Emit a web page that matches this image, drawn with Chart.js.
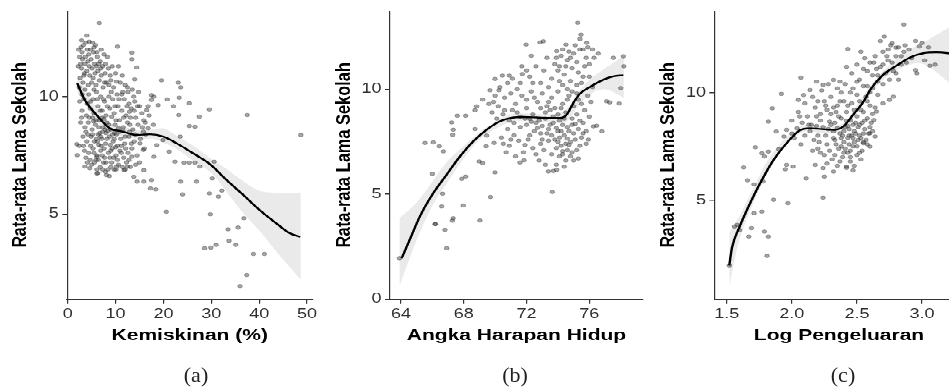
<!DOCTYPE html>
<html>
<head>
<meta charset="utf-8">
<script src="https://cdn.jsdelivr.net/npm/chart.js@4/dist/chart.umd.min.js"></script>
<style>
  html, body { margin: 0; padding: 0; background: #fff; overflow: hidden; }
  body { width: 949px; height: 391px; position: relative; }
  /* the source figure is squeezed vertically, so the plots are drawn tall and scaled down */
  #plots { position: absolute; left: 0; top: 0; width: 980px; height: 501px; transform: scaleY(0.78); transform-origin: 0 0; }
  #plots canvas { position: absolute; top: 0; }
  .cap { position: absolute; top: 362px; font-family: 'Liberation Serif', 'DejaVu Serif', serif; font-size: 22px; line-height: 26px; color: #222; transform: translateX(-50%); }
</style>
</head>
<body>
<div id="plots">
  <canvas id="chart-a" width="330" height="450" style="left:0px"></canvas>
  <canvas id="chart-b" width="340" height="450" style="left:320px"></canvas>
  <canvas id="chart-c" width="340" height="450" style="left:640px"></canvas>
</div>
<div class="cap" style="left:196px">(a)</div>
<div class="cap" style="left:515px">(b)</div>
<div class="cap" style="left:843px">(c)</div>
<script>
// ---- (a) Kemiskinan vs Rata-rata Lama Sekolah ----
const povertyTicksX = [0, 10, 20, 30, 40, 50];
const povertyTicksY = [5, 10];
const povertyPoints = [
  [6.6,13.14],[4.0,12.6],[10.4,12.13],[13.4,11.88],[13.4,11.6],[14.4,11.25],[19.6,10.7],[23.1,10.6],[23.6,10.4],
  [20.8,9.89],[23.3,9.96],[25.4,9.72],[22.1,9.6],[29.6,9.46],[27.5,9.15],[37.5,9.22],[23.2,9.22],[48.7,8.37],
  [25.4,8.75],[26.6,8.72],[23.5,8.3],[21.2,7.66],[22.4,7.23],[24.3,7.19],[25.4,7.19],[26.6,7.19],[27.6,7.02],
  [30.6,7.23],[30.2,6.52],[23.6,6.38],[26.9,6.38],[32.2,6.0],[29.6,5.88],[24.0,5.84],[31.5,5.74],[20.6,5.1],
  [29.8,4.99],[36.8,4.82],[33.5,4.35],[35.6,4.42],[33.7,3.86],[35.1,3.68],[28.6,3.54],[29.9,3.57],[31.0,3.68],
  [38.8,3.3],[41.1,3.3],[37.4,2.4],[36.0,1.93],[18.6,7.94],[19.9,8.15],[18.0,7.44],[17.5,6.45],[18.4,6.05],
  [17.3,6.09],[15.9,6.87],[14.5,6.38],[15.9,6.38],[13.8,6.59],[17.5,10.07],[17.5,9.86],[18.0,10.0],[18.9,9.64],
  [16.5,9.43],[15.0,9.6],[13.8,10.0],[12.5,10.4],[11.3,10.1],[14.0,10.74],[10.2,10.64],[12.9,9.36],[15.9,9.0],
  [17.9,8.8],[16.8,8.65],[15.8,8.51],[15.1,8.01],[15.8,7.73],[13.4,7.44],[12.5,7.02],[11.8,6.87],[10.2,7.02],
  [8.7,6.62],[8.1,6.66],[6.1,6.73],[3.6,7.02],[2.0,7.51],[1.9,7.98],[6.1,7.44],
  [2.3,12.0],[2.8,12.1],[3.3,12.2],[3.8,12.3],[4.5,12.35],[5.2,12.3],[5.8,12.2],[2.5,11.7],[3.1,11.6],[3.7,11.7],
  [4.2,11.5],[4.9,11.6],[5.6,11.4],[6.2,11.7],[6.8,11.5],[7.3,11.3],[2.2,11.3],[2.9,11.2],[3.5,11.0],[4.0,11.1],
  [4.6,10.9],[5.1,11.2],[5.7,11.0],[6.3,11.1],[7.0,10.9],[7.8,11.0],[8.5,11.2],[9.3,11.3],[10.6,11.3],[2.6,10.8],
  [3.2,10.6],[4.3,10.5],[5.0,10.6],[5.9,10.5],[6.6,10.7],[7.4,10.4],[8.1,10.6],[8.9,10.9],[9.6,10.4],[11.0,10.6],
  [12.0,10.5],[6.1,11.9],[7.6,11.8],[8.3,11.7],[4.8,12.0],[7.0,12.0],
  [2.5,9.8],[3.4,9.9],[4.4,10.1],[5.3,9.9],[6.0,10.2],[6.9,10.0],[7.7,9.8],[8.6,10.0],[9.4,9.9],[10.3,10.1],
  [11.8,9.9],[12.8,9.7],[3.0,9.4],[3.9,9.2],[4.7,9.5],[5.5,9.3],[6.3,9.6],[7.2,9.4],[8.0,9.2],[8.8,9.5],
  [9.7,9.3],[10.5,9.6],[11.3,9.4],[12.2,9.2],[13.3,9.5],[14.2,9.1],[2.7,8.9],[3.6,8.7],[4.3,8.9],[5.1,8.6],
  [5.8,8.8],[6.6,9.0],[7.4,8.7],[8.2,8.9],[9.0,8.6],[9.9,8.8],[10.8,9.0],[11.6,8.7],[12.5,8.9],[13.6,8.6],
  [14.7,8.8],[3.2,8.3],[4.0,8.1],[4.9,8.3],[5.6,8.1],[6.4,8.4],[7.1,8.2],[7.9,8.0],[8.7,8.3],[9.5,8.1],
  [10.2,8.4],[11.1,8.2],[11.9,8.0],[12.8,8.3],[13.9,8.1],[15.2,8.2],[2.4,7.9],[3.5,7.7],[4.4,7.6],[5.3,7.8],
  [6.1,7.5],[6.9,7.7],[7.7,7.4],[8.5,7.6],[9.3,7.8],[10.1,7.5],[10.9,7.7],[11.7,7.4],[12.6,7.6],[13.4,7.8],
  [14.5,7.5],[4.1,7.2],[5.0,7.1],[5.9,7.3],[6.8,7.0],[7.5,7.2],[8.4,6.9],[9.2,7.2],[10.6,7.1],[11.4,7.0],
  [12.3,7.2],[13.1,7.0],[4.6,6.95],[6.3,6.75],[7.9,6.8],[9.7,6.9],
  [5.4,8.95],[6.7,8.45],[7.6,9.05],[8.4,8.55],[9.2,9.15],[6.0,8.2],[7.0,7.9],[8.9,7.95],[9.8,8.45],[10.6,8.65],
  [5.2,9.1],[6.5,7.95],[7.3,8.5],[8.0,8.45],[10.0,7.85],[11.5,8.55],[12.1,7.8],[13.0,8.8],[14.0,9.8],[15.5,9.3],
  [16.2,8.9],[16.8,9.6],[14.8,10.2],[13.5,10.3],
  [2.4,10.4],[3.0,10.1],[3.6,10.3],[4.1,9.7],[4.8,9.8],[5.5,10.3],[6.2,9.9],[6.8,9.4],[7.5,9.9],[8.3,9.6],
  [9.1,10.2],[9.9,9.6],[10.7,9.9],[11.5,10.2],[12.4,9.6],[13.1,9.1],[2.9,9.1],[3.8,8.5],[4.5,9.1],[5.2,8.4],
  [5.9,9.0],[6.5,8.7],[7.2,9.1],[7.8,8.6],[8.6,8.8],[9.4,8.4],[10.1,9.0],[10.9,8.5],[11.7,9.1],[12.9,8.5],
  [3.3,7.9],[4.2,8.4],[4.8,7.9],[5.5,7.6],[6.2,8.1],[6.9,8.3],[7.6,7.8],[8.2,8.2],[9.0,7.7],[9.7,8.2],
  [10.4,7.9],[11.2,7.9],[12.0,8.3],[13.3,8.0],[14.1,8.4],[3.8,7.4],[4.7,7.3],[5.6,7.2],[6.4,7.3],[7.2,7.5],
  [8.0,7.2],[8.8,7.4],[9.6,7.4],[10.4,7.3],[11.2,7.6],[12.8,7.3],[6.1,6.9],[7.3,6.9],[9.0,7.0],[10.1,6.9],
  [3.0,11.9],[3.6,11.4],[4.4,11.8],[5.4,11.9],[6.5,11.4],[2.7,11.4],[3.4,10.9],[4.5,11.3],[5.3,10.8],[6.0,11.3],
  [6.9,11.2],[7.7,10.6],[8.6,10.5],[2.9,12.4],[4.1,12.0],[5.5,12.1],[7.9,11.4],[9.0,10.7],[10.0,11.0],[11.4,10.9],
  [12.6,10.2],[13.9,9.4],[14.6,9.6],[15.6,8.7],[16.3,8.4],[17.0,9.2],[15.0,7.2],[14.2,7.1],[16.0,7.8],[12.0,6.9]
];
const povertyFitX = [2.0, 3.6, 6.05, 8.8, 11.6, 14.4, 17.2, 20.0, 22.8, 26.2, 29.7, 33.2, 36.7, 40.1, 43.6, 46.4, 48.6];
const povertyFitY = [10.57, 9.86, 9.22, 8.65, 8.51, 8.37, 8.4, 8.3, 8.01, 7.59, 7.13, 6.45, 5.81, 5.17, 4.6, 4.18, 4.03];
const povertyBandX = [2, 4, 6, 9, 12, 15, 18, 20, 23, 26, 30, 33, 36, 40, 44, 48.7];
const povertyBandHi = [10.95, 10.2, 9.5, 8.85, 8.7, 8.55, 8.6, 8.65, 8.3, 7.95, 7.35, 6.95, 6.5, 6.0, 5.9, 5.9];
const povertyBandLo = [10.2, 9.55, 8.95, 8.45, 8.3, 8.2, 8.2, 8.05, 7.75, 7.3, 6.75, 6.0, 5.2, 4.3, 3.3, 2.2];

// ---- (b) Angka Harapan Hidup ----
const lifeTicksX = [64, 68, 72, 76];
const lifeTicksY = [0, 5, 10];
const lifePoints = [
  [75.26,13.17],[75.47,12.61],[71.97,12.13],[72.86,12.24],[73.07,12.29],[73.92,11.82],[74.51,12.13],[75.83,12.21],
  [76.57,11.7],[77.53,11.5],[78.17,11.58],[78.2,11.1],[78.0,10.06],[77.9,9.32],[77.1,9.43],[77.3,9.38],[76.26,8.23],
  [76.8,7.99],[75.94,7.6],[76.47,8.26],[69.99,10.49],[70.46,10.65],[70.9,10.65],[71.73,10.73],[69.67,9.95],
  [70.24,9.95],[69.2,9.51],[68.82,9.19],[68.72,9.0],[67.23,8.42],[67.59,8.74],[68.12,8.74],[67.33,8.07],[67.29,7.83],
  [68.72,8.1],[65.53,7.44],[66.06,7.47],[66.44,7.28],[66.7,7.04],[66.0,5.97],[67.87,5.73],[68.12,5.84],[67.97,4.46],
  [66.65,5.02],[66.59,4.41],[67.33,3.85],[67.27,3.73],[66.17,3.57],[66.2,3.57],[66.8,3.3],[66.91,2.42],[69.03,3.74],
  [69.7,4.86],[69.2,6.48],[68.98,6.56],[69.99,6.04],[73.64,5.1],[73.39,6.08],[73.92,6.16],[71.58,6.51],[71.84,6.61],
  [69.42,7.28],[69.93,7.44],[70.52,7.4],[69.46,7.79],[63.9,1.95],
  [73.3,11.5],[73.8,11.2],[74.2,11.6],[74.6,11.4],[75.0,11.7],[75.4,11.9],[75.8,11.5],[76.2,11.9],[74.0,10.9],
  [74.4,10.7],[74.9,11.0],[75.3,10.8],[75.7,11.1],[76.0,10.6],[73.6,10.5],[74.8,10.4],[75.5,10.3],[73.1,10.9],
  [72.6,11.1],[72.2,10.6],[71.6,10.3],[72.9,10.3],[74.3,10.2],[75.9,12.0],[75.1,12.1],[74.7,11.8],
  [70.2,9.2],[70.6,9.6],[71.0,9.8],[71.3,9.3],[71.7,9.7],[72.0,9.1],[72.3,9.9],[72.7,9.4],[73.0,9.8],[73.3,9.2],
  [73.6,9.6],[74.0,9.9],[74.3,9.3],[74.7,9.7],[75.0,9.2],[75.3,9.5],[75.7,9.0],[76.1,9.4],[70.5,8.8],[70.9,8.5],
  [71.4,8.9],[71.9,8.6],[72.4,8.8],[72.8,8.5],[73.2,8.9],[73.7,8.7],[74.1,8.5],[74.5,8.9],[74.9,8.6],[75.2,8.8],
  [75.6,8.4],[76.0,8.7],
  [70.8,8.1],[71.2,7.8],[71.6,8.2],[72.1,7.6],[72.5,8.0],[72.9,7.4],[73.3,7.9],[73.5,8.3],[73.8,7.6],[74.0,8.0],
  [74.2,7.3],[74.4,7.8],[74.6,8.2],[74.8,7.5],[75.0,7.9],[75.2,7.1],[75.5,7.7],[75.8,8.0],[73.1,7.1],[73.6,6.9],
  [74.1,6.8],[74.5,6.6],[74.9,7.0],[75.3,6.7],[72.4,7.2],[71.8,7.0],[71.3,6.8],[72.8,6.6],[73.9,6.4],[74.3,7.05],
  [74.7,7.35],[73.4,7.55],[74.0,7.5],[74.3,8.3],[73.9,8.15],[74.6,7.65],[75.1,8.35],[72.7,8.15],[73.0,8.25],
  [71.9,7.35],[70.4,7.7],[70.9,7.3],[71.5,7.55],[72.3,8.45],[75.4,8.5],[73.5,9.0],[74.2,9.1],[72.0,8.3],[71.1,9.0],
  [70.1,8.6],[69.8,8.9],[69.6,9.3],[70.0,9.7],
  [73.4,8.1],[73.7,8.4],[74.0,8.8],[74.2,8.0],[74.4,8.6],[74.5,7.4],[74.7,8.0],[74.9,8.3],[75.1,7.6],[75.3,8.1],
  [73.6,7.8],[73.9,7.2],[74.1,7.7],[74.3,6.9],[74.6,7.1],[74.8,6.8],[75.0,6.6],[75.4,7.3],[75.6,7.9],[75.8,7.4],
  [73.2,8.6],[72.9,7.9],[72.6,8.4],[72.2,7.8],[72.0,9.5],[72.5,9.6],[72.9,9.1],[73.4,9.4],[73.8,9.1],[74.6,9.5],
  [74.9,9.9],[75.2,9.8],[75.5,9.3],[75.9,9.7],[76.2,10.1],[75.6,10.6],[75.2,10.2],[74.6,10.0],[74.1,10.4],[73.4,10.1],
  [73.9,11.5],[74.3,11.9],[74.8,11.5],[75.2,11.3],[75.6,11.9],[76.0,11.2],[76.3,11.5],[75.4,12.4],[74.1,11.1],[74.5,11.1],
  [71.2,8.4],[71.6,8.7],[72.2,8.6],[71.0,7.6],[70.7,7.0],[72.6,6.9],[73.2,6.4],[73.7,6.1],[74.4,6.3],[73.0,7.6],
  [70.3,10.1],[70.8,10.3],[71.4,10.0],[71.1,10.5],[72.4,10.3],[72.0,10.9],[72.3,11.6],[71.7,11.1],[70.6,9.0],[69.9,9.4]
];
const lifeFitX = [64.04, 64.6, 65.2, 66.06, 66.9, 67.76, 68.6, 69.46, 70.3, 70.95, 71.8, 72.64, 73.5, 74.13, 74.56, 74.98, 75.4, 76.04, 76.9, 77.53, 78.17];
const lifeFitY = [1.94, 2.9, 3.93, 5.05, 5.92, 6.8, 7.52, 8.07, 8.47, 8.63, 8.68, 8.66, 8.63, 8.63, 8.79, 9.35, 9.79, 10.11, 10.46, 10.62, 10.67];
const lifeBandX = [63.9, 65, 66, 67, 68, 69, 70, 71, 72, 73, 74, 74.6, 75.2, 76, 77, 78.2];
const lifeBandHi = [3.85, 4.6, 5.6, 6.6, 7.3, 7.95, 8.45, 8.8, 8.85, 8.82, 8.85, 9.1, 9.75, 10.45, 11.0, 11.6];
const lifeBandLo = [0.6, 2.8, 4.45, 5.6, 6.7, 7.6, 8.1, 8.45, 8.5, 8.45, 8.4, 8.5, 9.1, 9.75, 10.0, 9.6];

// ---- (c) Log Pengeluaran ----
const spendTicksX = [1.5, 2.0, 2.5, 3.0];
const spendTicksY = [5, 10];
const spendPoints = [
  [2.86,13.17],[2.71,12.6],[2.43,12.03],[2.07,10.7],[1.85,9.27],[1.92,9.94],[1.63,6.52],[1.66,5.93],[1.72,7.46],
  [1.77,7.18],[1.79,7.03],[1.78,5.87],[1.71,5.74],[1.86,5.02],[1.97,4.86],[1.77,4.47],[1.71,4.4],[1.58,3.85],
  [1.56,3.78],[1.6,3.62],[1.69,3.7],[1.67,3.31],[1.79,3.54],[1.82,3.31],[1.81,2.41],[2.24,5.12],[2.11,6.01],
  [1.95,6.44],[1.96,6.64],[2.01,6.56],[1.9,7.37],[1.82,7.26],[2.25,6.1],[2.24,6.49],[2.18,6.64],[2.47,6.38],
  [2.32,6.33],[2.42,6.56],[2.6,7.49],[2.96,10.9],[2.95,11.05],[3.06,11.25],[2.98,12.14],[2.8,12.09],[2.77,12.29],
  [2.78,9.81],[2.75,9.66],[2.7,9.5],[2.65,9.12],[2.63,8.73],[2.6,8.11],[2.64,7.96],[2.55,7.65],[1.88,8.19],
  [1.82,8.65],[1.94,7.96],[1.96,8.27],[2.04,8.34],[2.0,8.7],[2.05,9.66],[2.09,9.89],[2.14,10.12],[2.19,10.51],
  [2.24,10.36],[2.32,10.59],[2.37,10.51],[1.52,1.97],
  [2.12,8.9],[2.15,8.5],[2.18,9.3],[2.2,8.0],[2.22,8.7],[2.25,9.6],[2.27,7.6],[2.28,8.3],[2.3,9.0],[2.32,7.9],
  [2.33,8.6],[2.35,9.4],[2.36,7.4],[2.37,8.1],[2.38,8.8],[2.4,7.7],[2.41,8.4],[2.42,9.1],[2.43,7.2],[2.44,8.0],
  [2.45,8.7],[2.46,9.5],[2.47,7.5],[2.48,8.2],[2.5,8.9],[2.51,7.8],[2.52,8.5],[2.53,9.2],[2.54,7.3],[2.55,8.1],
  [2.56,8.7],[2.57,9.8],[2.58,7.6],[2.6,8.4],[2.62,9.0],[2.25,7.1],[2.31,6.9],[2.39,7.0],[2.45,6.8],[2.5,7.1],
  [2.35,6.6],[2.42,6.5],[2.2,7.4],[2.17,7.8],[2.14,8.2],[2.08,8.6],[2.05,9.1],[2.1,9.5],[2.16,9.8],[2.23,10.1],
  [2.3,9.8],[2.28,10.4],[2.38,10.0],[2.4,9.6],[2.47,10.2],[2.5,9.9],[2.35,8.35],[2.39,8.0],[2.43,8.45],[2.47,7.9],
  [2.52,8.0],[2.44,7.6],[2.38,7.5],[2.33,7.8],[2.49,8.6],[2.55,7.7],[2.58,8.8],[2.6,9.4],[2.64,9.3],[2.66,9.9],
  [2.29,8.65],[2.27,9.2],[2.22,9.0],[2.19,8.45],
  [2.52,10.6],[2.55,11.1],[2.58,10.3],[2.6,11.4],[2.62,10.8],[2.64,11.7],[2.66,10.5],[2.68,11.2],[2.7,11.9],
  [2.72,10.9],[2.74,11.5],[2.76,12.2],[2.78,11.0],[2.8,11.7],[2.82,10.6],[2.84,11.3],[2.86,11.9],[2.88,11.4],
  [2.9,12.0],[2.56,11.6],[2.6,10.0],[2.65,11.1],[2.7,10.4],[2.75,10.6],[2.82,12.1],[2.5,11.3],[2.46,10.9],
  [2.42,11.2],[2.53,11.9],[2.68,12.4],[2.74,12.0],[2.92,11.6],[2.95,12.4],[3.0,12.3],[3.05,12.1],[3.1,11.3],[3.02,11.5],
  [2.3,8.5],[2.32,8.2],[2.34,7.6],[2.36,8.9],[2.38,7.9],[2.4,8.2],[2.41,7.4],[2.42,8.7],[2.43,7.9],[2.44,8.3],
  [2.45,7.3],[2.46,8.0],[2.47,8.5],[2.48,7.7],[2.49,8.1],[2.5,7.5],[2.51,8.4],[2.52,7.2],[2.53,7.9],[2.54,8.6],
  [2.56,8.3],[2.57,7.8],[2.59,8.1],[2.61,8.6],[2.34,9.1],[2.37,9.6],[2.43,9.4],[2.48,9.2],[2.52,9.6],[2.55,9.1],
  [2.26,8.0],[2.24,8.4],[2.21,7.7],[2.19,8.9],[2.13,8.5],[2.1,8.0],[2.07,7.6],[2.02,7.9],[2.0,8.1],[2.06,8.9],
  [2.29,7.3],[2.33,7.1],[2.37,6.8],[2.4,7.2],[2.45,7.0],[2.53,6.9],[2.48,6.6],[2.27,6.7],[2.22,7.2],[2.16,7.3],
  [2.62,10.2],[2.66,10.8],[2.7,11.3],[2.73,11.7],[2.77,11.4],[2.8,10.9],[2.84,11.7],[2.87,12.2],[2.63,11.4],[2.58,11.0],
  [2.55,10.3],[2.5,10.5],[2.45,10.0],[2.41,10.4],[2.35,10.2],[2.2,9.6],[2.26,9.4],[2.32,9.3],[2.58,9.6],[2.62,8.2]
];
const spendFitX = [1.52, 1.54, 1.6, 1.68, 1.77, 1.86, 1.96, 2.06, 2.14, 2.23, 2.33, 2.4, 2.47, 2.55, 2.61, 2.7, 2.81, 2.91, 3.01, 3.11, 3.2, 3.28];
const spendFitY = [1.97, 2.77, 3.78, 4.86, 5.94, 6.87, 7.65, 8.24, 8.34, 8.3, 8.27, 8.45, 8.96, 9.58, 10.2, 10.82, 11.28, 11.64, 11.83, 11.87, 11.83, 11.75];
const spendBandX = [1.52, 1.6, 1.7, 1.8, 1.9, 2.0, 2.1, 2.2, 2.3, 2.4, 2.5, 2.6, 2.7, 2.8, 2.9, 3.0, 3.1, 3.2, 3.3];
const spendBandHi = [3.5, 4.3, 5.5, 6.7, 7.55, 8.15, 8.5, 8.5, 8.45, 8.6, 9.4, 10.3, 11.0, 11.55, 12.0, 12.3, 12.65, 13.0, 13.3];
const spendBandLo = [1.0, 3.2, 4.8, 6.1, 7.15, 7.85, 8.2, 8.15, 8.1, 8.25, 9.05, 9.9, 10.6, 11.0, 11.3, 11.35, 11.0, 10.5, 10.0];

const FONT = "'Liberation Sans', Arial, sans-serif";
const AXIS = '#333';
const TICK = '#2e2e2e';
const CHART_BOTTOM = 383.3;   // in the unscaled drawing space
const CHART_TOP = 14.1;

function zip(xs, ys) {
  return xs.map((x, i) => ({ x: x, y: ys[i] }));
}

function buildPanel(id, o) {
  const canvas = document.getElementById(id);
  const H = canvas.height;
  return new Chart(canvas.getContext('2d'), {
    type: 'scatter',
    data: {
      datasets: [
        { data: zip(o.bandX, o.bandHi), showLine: true, borderWidth: 0, pointRadius: 0,
          backgroundColor: 'rgba(150,150,150,0.2)', fill: '+1', tension: 0.35, order: 3 },
        { data: zip(o.bandX, o.bandLo), showLine: true, borderWidth: 0, pointRadius: 0,
          fill: false, tension: 0.35, order: 3 },
        { data: o.points.map(p => ({ x: p[0], y: p[1] })), pointRadius: 2.3,
          backgroundColor: 'rgba(55,55,55,0.45)', borderColor: 'rgba(40,40,40,0.45)', borderWidth: 0.8, order: 2 },
        { data: zip(o.fitX, o.fitY), showLine: true, borderColor: '#000', borderWidth: 2.4, pointRadius: 0,
          cubicInterpolationMode: 'monotone', order: 1 }
      ]
    },
    options: {
      responsive: false,
      animation: false,
      events: [],
      layout: { padding: { left: 0, top: CHART_TOP, right: o.padRight, bottom: 0 } },
      plugins: { legend: { display: false }, tooltip: { enabled: false } },
      scales: {
        x: {
          type: 'linear', min: o.xMin, max: o.xMax,
          afterBuildTicks: s => { s.ticks = o.xTicks.map(v => ({ value: v })); },
          afterFit: s => { s.height = H - CHART_BOTTOM; },
          grid: { drawOnChartArea: false, drawTicks: true, tickLength: 6.4, color: AXIS, lineWidth: 1.2 },
          border: { display: true, color: AXIS, width: 1.5 },
          ticks: { color: TICK, font: { family: FONT, size: 18 }, padding: 2.5, maxRotation: 0, autoSkip: false,
                   callback: v => o.xFmt ? o.xFmt(v) : String(v) },
          title: { display: true, text: o.xTitle, color: '#000', font: { family: FONT, size: 21, weight: 'bold' },
                   padding: { top: 0, bottom: 7.5 } }
        },
        y: {
          type: 'linear', min: o.yMin, max: o.yMax,
          afterBuildTicks: s => { s.ticks = o.yTicks.map(v => ({ value: v })); },
          afterFit: s => { s.width = o.yWidth; },
          grid: { drawOnChartArea: false, drawTicks: true, tickLength: 5, color: AXIS, lineWidth: 1.5 },
          border: { display: true, color: AXIS, width: 1.2 },
          ticks: { color: TICK, font: { family: FONT, size: 18 }, padding: 3.4, autoSkip: false,
                   callback: v => String(v) },
          title: { display: true, text: 'Rata-rata Lama Sekolah', color: '#000',
                   font: { family: FONT, size: 21, weight: 'bold' }, padding: { top: o.yTitlePad, bottom: 0 } }
        }
      }
    }
  });
}

document.addEventListener('DOMContentLoaded', function () {
  buildPanel('chart-a', {
    points: povertyPoints, fitX: povertyFitX, fitY: povertyFitY,
    bandX: povertyBandX, bandHi: povertyBandHi, bandLo: povertyBandLo,
    xTicks: povertyTicksX, yTicks: povertyTicksY,
    xMin: -0.1, xMax: 51.1, yMin: 1.38, yMax: 13.65,
    yWidth: 67.2, padRight: 330 - 312.3, yTitlePad: 7.9,
    xTitle: 'Kemiskinan (%)'
  });
  buildPanel('chart-b', {
    points: lifePoints, fitX: lifeFitX, fitY: lifeFitY,
    bandX: lifeBandX, bandHi: lifeBandHi, bandLo: lifeBandLo,
    xTicks: lifeTicksX, yTicks: lifeTicksY,
    xMin: 63.3, xMax: 79.42, yMin: 0, yMax: 13.73,
    yWidth: 70, padRight: 340 - 323, yTitlePad: 12.1,
    xTitle: 'Angka Harapan Hidup'
  });
  buildPanel('chart-c', {
    points: spendPoints, fitX: spendFitX, fitY: spendFitY,
    bandX: spendBandX, bandHi: spendBandHi, bandLo: spendBandLo,
    xTicks: spendTicksX, yTicks: spendTicksY, xFmt: v => v.toFixed(1),
    xMin: 1.405, xMax: 3.32, yMin: 0.41, yMax: 13.79,
    yWidth: 74.3, padRight: 340 - 323.7, yTitlePad: 16.1,
    xTitle: 'Log Pengeluaran'
  });
});
</script>
</body>
</html>
